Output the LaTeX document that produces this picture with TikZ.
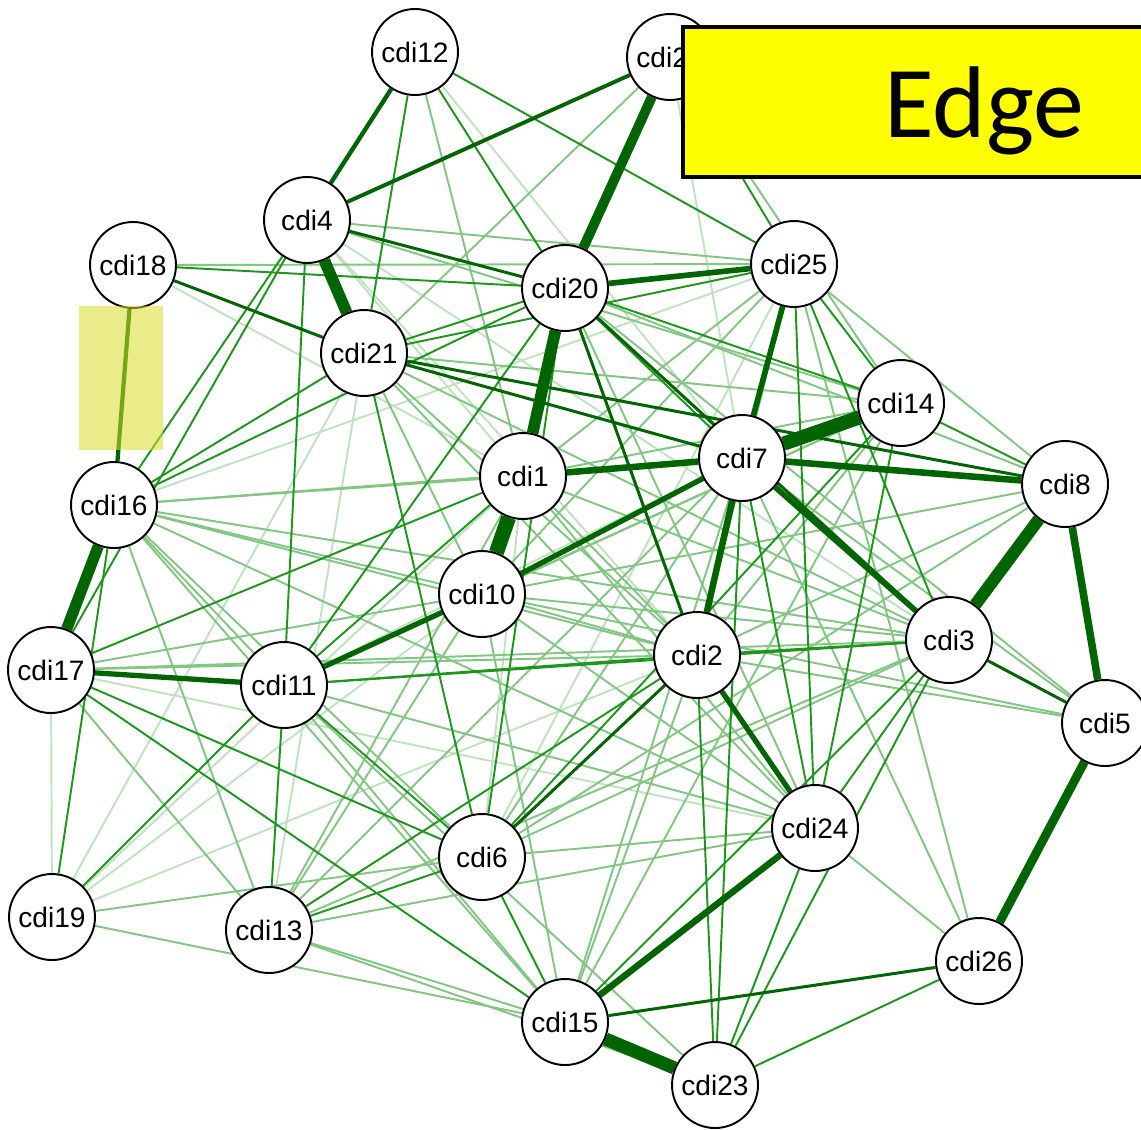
\documentclass[tikz,border=0pt]{standalone}
\usepackage{fontspec}
\setmainfont{Liberation Sans}
\newfontfamily\bannerfont{Carlito}
\usepackage{xcolor}

\definecolor{edgedark}{RGB}{0,100,0}
\definecolor{edgemid}{RGB}{30,150,30}
\definecolor{marker}{RGB}{215,220,40}
\definecolor{bannerfill}{RGB}{255,255,0}

\pgfdeclarelayer{edges}
\pgfsetlayers{edges,main}

\begin{document}
\begin{tikzpicture}[x=0.02cm,y=-0.02cm,
    cdi/.style={circle,draw=black,line width=1.1pt,fill=white,minimum size=1.72cm,inner sep=0pt,font=\fontsize{16}{18}\selectfont},
    faint/.style={draw=edgemid!28,line width=1.1pt},
    light/.style={draw=edgemid!55,line width=1.1pt},
    mid/.style={draw=edgemid,line width=1.1pt},
    dark/.style={draw=edgedark,line width=1.7pt},
    heavy/.style={draw=edgedark,line width=#1},
    banner/.style={draw=black,line width=2.8pt,fill=bannerfill}]
    \useasboundingbox (0,0) rectangle (1141,1129);

    % nodes
    \node[cdi] (n12) at (415,52) {cdi12};
    \node[cdi] (n22) at (670,57) {cdi22};
    \node[cdi] (n4) at (307,220) {cdi4};
    \node[cdi] (n18) at (133,265) {cdi18};
    \node[cdi] (n20) at (565,288) {cdi20};
    \node[cdi] (n25) at (794,264) {cdi25};
    \node[cdi] (n21) at (364,353) {cdi21};
    \node[cdi] (n14) at (901,403) {cdi14};
    \node[cdi] (n7) at (742,458) {cdi7};
    \node[cdi] (n1) at (523,476) {cdi1};
    \node[cdi] (n8) at (1065,484) {cdi8};
    \node[cdi] (n16) at (114,505) {cdi16};
    \node[cdi] (n10) at (482,594) {cdi10};
    \node[cdi] (n3) at (949,640) {cdi3};
    \node[cdi] (n2) at (697,655) {cdi2};
    \node[cdi] (n17) at (51,670) {cdi17};
    \node[cdi] (n11) at (284,685) {cdi11};
    \node[cdi] (n5) at (1105,723) {cdi5};
    \node[cdi] (n24) at (815,828) {cdi24};
    \node[cdi] (n6) at (482,857) {cdi6};
    \node[cdi] (n19) at (52,917) {cdi19};
    \node[cdi] (n13) at (269,930) {cdi13};
    \node[cdi] (n26) at (979,961) {cdi26};
    \node[cdi] (n15) at (565,1022) {cdi15};
    \node[cdi] (n23) at (715,1085) {cdi23};

    % edges, weakest first
    \begin{pgfonlayer}{edges}
    \foreach \a/\b in {18/1,19/17,19/10,19/21,19/1,13/21,4/1,4/3,4/2,22/7,25/6,25/16,7/11,12/7,2/19,24/17,1/6}
        \draw[faint] (n\a) -- (n\b);
    \foreach \a/\b in {12/1,22/21,22/14,18/25,4/25,4/14,16/1,16/7,16/10,16/3,16/2,16/11,16/6,16/15,
                       17/2,17/3,17/10,17/13,19/6,19/15,13/16,13/10,13/7,13/3,13/15,11/15,11/23,11/24,
                       21/14,21/3,21/2,21/10,21/24,20/8,20/5,20/24,25/8,25/2,25/1,25/10,25/26,
                       14/10,14/1,14/2,14/11,14/15,7/6,7/5,7/26,7/15,8/2,8/10,8/6,3/1,3/6,3/10,
                       5/2,5/10,2/15,2/10,2/1,24/26,24/13,24/6,24/16,23/13,1/24,1/13,10/24,10/15}
        \draw[light] (n\a) -- (n\b);
    \foreach \a/\b in {12/21,12/20,12/25,22/25,18/20,4/16,4/17,4/11,16/20,16/21,17/1,19/11,19/16,
                       13/11,13/6,13/2,11/1,11/20,11/2,11/3,11/6,21/20,21/25,21/6,20/14,20/7,20/6,
                       25/14,25/3,25/24,14/8,14/24,14/6,7/24,7/23,3/2,3/24,3/15,3/23,2/23,24/23,
                       26/23,6/15,17/15,17/6}
        \draw[mid] (n\a) -- (n\b);
    \foreach \a/\b in {18/21,4/20,21/7,21/8,20/3,20/2,3/5,15/26,6/2}
        \draw[dark] (n\a) -- (n\b);
    \foreach \a/\b/\w in {12/4/2.5pt,22/4/2.2pt,17/11/3pt,11/10/3pt,10/7/3pt,1/7/3.7pt,7/8/3.7pt,
                          20/25/3.2pt,7/2/3.7pt,7/3/3.2pt,25/7/3.2pt,2/24/3pt,24/15/3.7pt,8/5/4.3pt,
                          5/26/5pt,22/20/5.6pt,20/1/6.6pt,16/17/6.4pt,4/21/6.6pt,8/3/7pt,
                          15/23/7.5pt,7/14/8pt,1/10/8.5pt}
        \draw[heavy=\w] (n\a) -- (n\b);
    \draw[heavy=2.4pt] (n18) -- (n16);
    \end{pgfonlayer}

    % marker over the cdi18 -- cdi16 link
    \fill[marker,opacity=0.55] (79,306) rectangle (163,450);

    % title banner
    \draw[banner] (683,27) rectangle (1175,177);
    \node (title) [anchor=base west,inner sep=0pt,font=\bannerfont\fontsize{58}{60}\selectfont] at (884,137) {Edge};
\end{tikzpicture}
\end{document}
